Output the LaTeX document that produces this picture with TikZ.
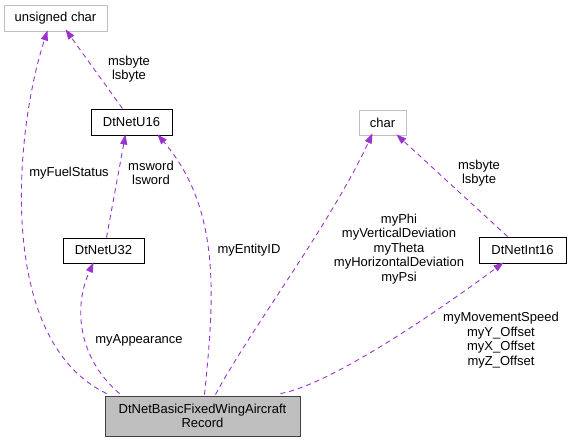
\documentclass[tikz,border=0pt]{standalone}
\usepackage{fontspec}
\setmainfont{Liberation Sans}
\usetikzlibrary{arrows.meta,calc}
\definecolor{edgepurple}{HTML}{9A32CD}
\definecolor{boxgray}{HTML}{BFBFBF}
\tikzset{
  >={Triangle[length=10pt,width=7pt]},
}
\tikzstyle{every node}=[font=\fontsize{13}{14.5}\selectfont]
\tikzstyle{cls}=[draw=black,line width=0.9pt,inner sep=0pt,minimum height=26pt]
\tikzstyle{ext}=[draw=boxgray,line width=0.9pt,inner sep=0pt,minimum height=26pt]
\tikzstyle{mainbox}=[draw=black!75,fill=boxgray,line width=0.9pt,inner sep=0pt,
  minimum width=195pt,minimum height=40pt,align=center]
\tikzstyle{use}=[->,edgepurple,line width=0.9pt,dash pattern=on 5pt off 4pt]
\tikzstyle{lbl}=[align=center,inner sep=0pt]

\begin{document}
\begin{tikzpicture}[x=1pt,y=-1pt]
    \useasboundingbox (0,0) rectangle (571,443);
    % classes
    \node[ext,minimum width=103pt] (uchar) at (55.5,18) {unsigned char};
    \node[cls,minimum width=81pt] (u16) at (131.5,122) {DtNetU16};
    \node[cls,minimum width=81pt,minimum height=25pt] (u32) at (103.5,250.5) {DtNetU32};
    \node[ext,minimum width=47pt,minimum height=25pt] (chr) at (382.5,122.5) {char};
    \node[cls,minimum width=87pt] (int16) at (522.5,250) {DtNetInt16};
    \node[mainbox] (rec) at (202.5,416) {DtNetBasicFixedWingAircraft\\Record};
    % members
    \draw[use] ($(rec.north west)+(2,-2)$) .. controls (-5,340) and (15,130) ..
      ($(uchar.south)+(-8,-1)$);
    \draw[use] ($(rec.north west)+(15,-2)$) .. controls (80,360) and (72,310) ..
      ($(u32.south)+(-10,-1)$);
    \draw[use] ($(u32.north)+(3,0)$) -- ($(u16.south)+(-6,-1)$);
    \draw[use] ($(rec.north)+(2,-1)$) .. controls (214,300) and (222,210) ..
      ($(u16.south east)+(-15,-1)$);
    \draw[use] ($(u16.north)+(-9,0)$) -- ($(uchar.south)+(10,-2)$);
    \draw[use] ($(rec.north)+(13,-1)$) .. controls (250,330) and (330,225) ..
      ($(chr.south)+(-10,-2)$);
    \draw[use] ($(int16.north)+(-15,0)$) -- ($(chr.south east)+(-10,-1)$);
    \draw[use] ($(rec.north east)+(-20,-2)$) .. controls (330,385) and (440,310) ..
      ($(int16.south)+(-19,-1)$);
    % labels
    \node[lbl] (l1) at (69,173) {myFuelStatus};
    \node[lbl] (l2) at (139,340) {myAppearance};
    \node[lbl] (l3) at (151,173) {msword\\lsword};
    \node[lbl] (l4) at (249,250) {myEntityID};
    \node[lbl] (l5) at (129,69) {msbyte\\lsbyte};
    \node[lbl] (l6) at (399,249) {myPhi\\myVerticalDeviation\\myTheta\\myHorizontalDeviation\\myPsi};
    \node[lbl] (l7) at (479,173) {msbyte\\lsbyte};
    \node[lbl] (l8) at (501,340) {myMovementSpeed\\myY\_Offset\\myX\_Offset\\myZ\_Offset};
\end{tikzpicture}
\end{document}
